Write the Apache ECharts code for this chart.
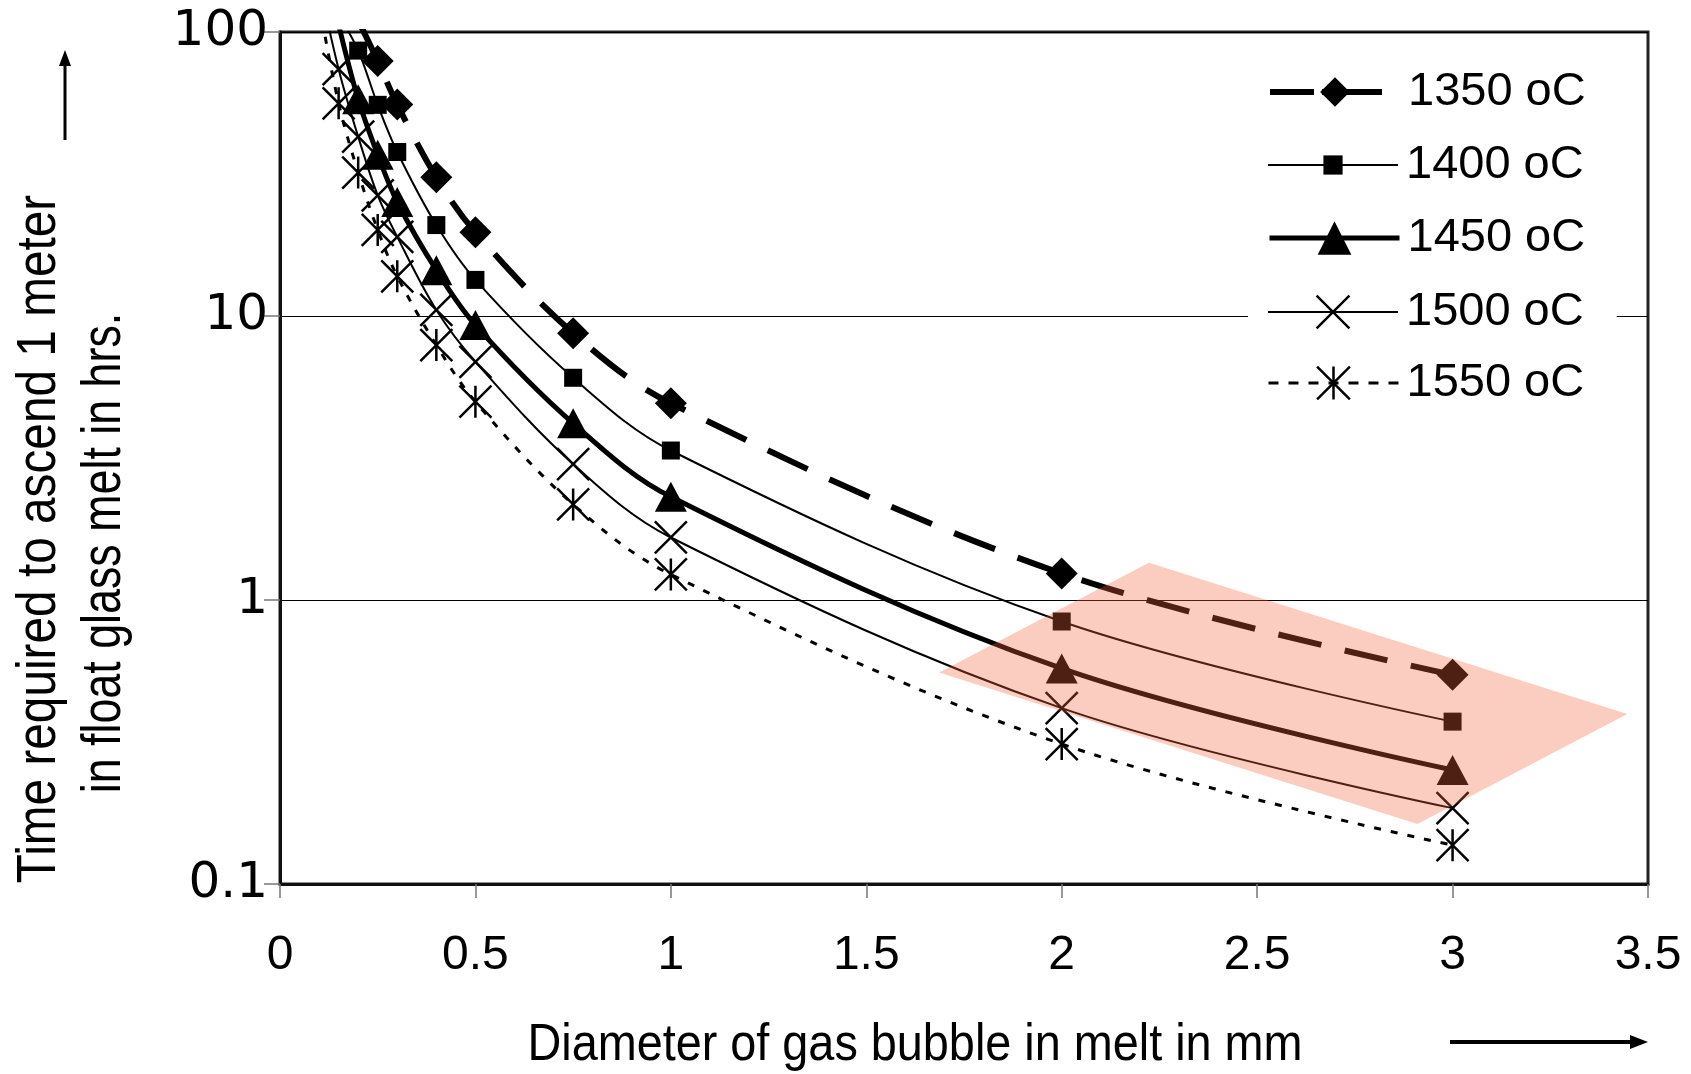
<!DOCTYPE html>
<html>
<head>
<meta charset="utf-8">
<title>Bubble ascent time in float glass melt</title>
<script src="https://cdn.jsdelivr.net/npm/echarts@6/dist/echarts.min.js"></script>
<style>
  html, body { margin: 0; padding: 0; background: #fff; }
  #chart { width: 1691px; height: 1074px; }
</style>
</head>
<body>
<div id="chart"></div>
<script>
// Bubble diameter (mm) vs hours needed to rise 1 m.
var diam1350 = [0.2, 0.25, 0.3, 0.4, 0.5, 0.75, 1, 2, 3];
var time1350 = [110, 79, 55.5, 30.8, 19.7, 8.7, 4.93, 1.24, 0.545];
var diam1400 = [0.15, 0.2, 0.25, 0.3, 0.4, 0.5, 0.75, 1, 2, 3];
var time1400 = [115, 86, 55.4, 37.8, 20.9, 13.4, 6.06, 3.36, 0.84, 0.373];
var diam1450 = [0.15, 0.2, 0.25, 0.3, 0.4, 0.5, 0.75, 1, 2, 3];
var time1450 = [106, 58, 37, 25.2, 14.5, 9.29, 4.19, 2.31, 0.574, 0.252];
var diam1500 = [0.1, 0.15, 0.2, 0.25, 0.3, 0.4, 0.5, 0.75, 1, 2, 3];
var time1500 = [150, 74, 42.8, 26.6, 19, 10.5, 6.9, 3.01, 1.66, 0.416, 0.185];
var diam1550 = [0.1, 0.15, 0.2, 0.25, 0.3, 0.4, 0.5, 0.75, 1, 2, 3];
var time1550 = [126, 56.1, 32, 20.1, 13.8, 7.9, 4.99, 2.17, 1.23, 0.311, 0.137];

var seriesNames = ["1350 oC", "1400 oC", "1450 oC", "1500 oC", "1550 oC"];
var xTicks = [0, 0.5, 1, 1.5, 2, 2.5, 3, 3.5];
var yTicks = [0.1, 1, 10, 100];

// shaded (hatched) zone drawn over the large-bubble end, corners in data units
var zoneX = [1.686, 2.223, 3.447, 2.91];
var zoneY = [0.555, 1.352, 0.397, 0.1626];

(function () {
  var XMARK = "path://M0 0L10 10M10 0L0 10";
  var STAR = "path://M0 0L10 10M10 0L0 10M5 0L5 10";
  var SANS = "'Liberation Sans', Arial, sans-serif";

  function pairs(xs, ys) {
    return xs.map(function (x, i) { return [x, ys[i]]; });
  }

  function line(name, xs, ys, o) {
    return {
      name: name, type: "line", data: pairs(xs, ys),
      smooth: 0.35, symbol: o.symbol, symbolSize: o.size,
      showAllSymbol: true, clip: true, z: 3,
      lineStyle: { color: "#000", width: o.width, type: o.dash || "solid" },
      itemStyle: o.hollow ? { color: "none", borderColor: "#000", borderWidth: 2.5 } : { color: "#000" },
    };
  }

  var series = [
    line(seriesNames[0], diam1350, time1350, { symbol: "diamond", size: [32, 32], width: 6, dash: [44, 24] }),
    line(seriesNames[1], diam1400, time1400, { symbol: "rect", size: [18, 18], width: 2 }),
    line(seriesNames[2], diam1450, time1450, { symbol: "triangle", size: [32, 30], width: 5 }),
    line(seriesNames[3], diam1500, time1500, { symbol: XMARK, size: [32, 32], width: 2, hollow: true }),
    line(seriesNames[4], diam1550, time1550, { symbol: STAR, size: [32, 32], width: 3, dash: [7, 10], hollow: true }),
    {
      type: "custom", name: "zone", coordinateSystem: "cartesian2d", silent: true, z: 10,
      data: [[zoneX[0], zoneY[0]]],
      renderItem: function (params, api) {
        var pts = zoneX.map(function (x, i) { return api.coord([x, zoneY[i]]); });
        return { type: "polygon", shape: { points: pts }, style: { fill: "rgba(238,100,60,0.32)" } };
      },
    },
  ];

  // one small legend per series so each marker keeps its own size
  var rowMid = [92, 165, 238, 312, 383];
  var iconH = [37, 24, 42, 41, 41];
  var iconLine = [
    { width: 6, type: [44, 8, 60, 100] },
    { width: 2, type: "solid" },
    { width: 5, type: "solid" },
    { width: 2, type: "solid" },
    { width: 3, type: [10, 10] },
  ];
  var legends = seriesNames.map(function (n, i) {
    return {
      data: [n], orient: "horizontal", left: 1248, top: rowMid[i] - 36.5,
      itemWidth: 130, itemHeight: iconH[i], selectedMode: false,
      backgroundColor: "#fff", padding: [13, 33, 13, 19],
      lineStyle: iconLine[i],
      itemStyle: { borderWidth: i >= 3 ? 2.5 : 0 },
      textStyle: { fontSize: 47, fontFamily: SANS, color: "#000", padding: [0, 0, 0, 3] },
    };
  });

  // titles are drawn a bit condensed, like the original
  function title(text, x, y, size, squeeze, rot) {
    return {
      type: "text", x: x, y: y, rotation: rot || 0, scaleX: squeeze,
      style: { text: text, fontSize: size, fontFamily: SANS, fill: "#000", align: "center", verticalAlign: "middle" },
    };
  }

  var chart = echarts.init(document.getElementById("chart"));
  chart.setOption({
    animation: false,
    backgroundColor: "#fff",
    grid: { left: 280, right: 43, top: 32, bottom: 190, show: true, borderColor: "#222", borderWidth: 3 },
    legend: legends,
    xAxis: {
      type: "value", min: xTicks[0], max: xTicks[xTicks.length - 1], interval: 0.5,
      axisLine: { lineStyle: { color: "#111", width: 3 } },
      axisTick: { show: true, length: 14, lineStyle: { color: "#777", width: 1.5 } },
      splitLine: { show: false },
      axisLabel: { margin: 48, fontSize: 48, fontFamily: SANS, color: "#000" },
    },
    yAxis: {
      type: "log", logBase: 10, min: yTicks[0], max: yTicks[yTicks.length - 1],
      axisLine: { show: true, lineStyle: { color: "#111", width: 3 } },
      axisTick: { show: true, length: 16, lineStyle: { color: "#777", width: 1.5 } },
      splitLine: { show: true, lineStyle: { color: "#000", width: 1 } },
      axisLabel: {
        margin: 12, fontSize: 50, fontFamily: "'DejaVu Sans', sans-serif", color: "#000",
        formatter: function (v) { return String(+v.toPrecision(3)); },
      },
    },
    series: series,
    graphic: [
      title("Time required to ascend 1 meter", 40, 539, 56, 0.853, Math.PI / 2),
      title("in float glass melt in hrs.", 105, 553, 56, 0.8, Math.PI / 2),
      title("Diameter of gas bubble in melt in mm", 915, 1046, 52, 0.9),
      // direction arrows
      { type: "line", shape: { x1: 65, y1: 140, x2: 65, y2: 62 }, style: { stroke: "#000", lineWidth: 3 } },
      { type: "polygon", shape: { points: [[65, 50], [59, 66], [71, 66]] }, style: { fill: "#000" } },
      { type: "line", shape: { x1: 1450, y1: 1042, x2: 1634, y2: 1042 }, style: { stroke: "#000", lineWidth: 4 } },
      { type: "polygon", shape: { points: [[1648, 1042], [1630, 1035], [1630, 1049]] }, style: { fill: "#000" } },
    ],
  });
})();
</script>
</body>
</html>
